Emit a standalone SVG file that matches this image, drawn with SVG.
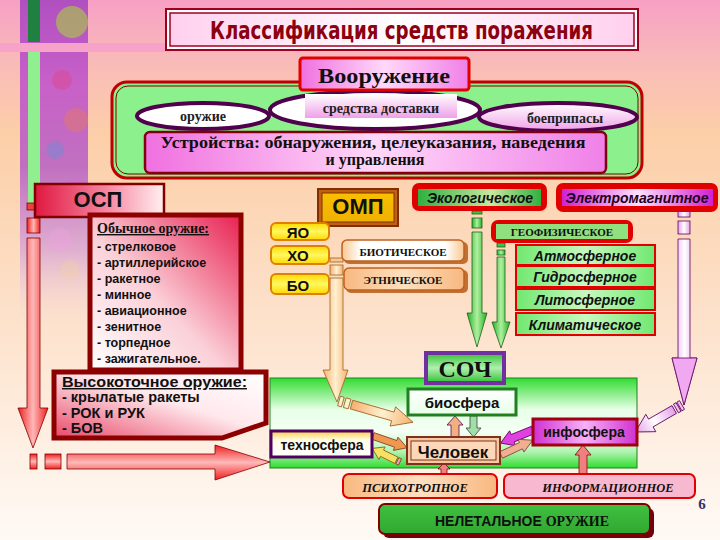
<svg xmlns="http://www.w3.org/2000/svg" width="720" height="540" viewBox="0 0 720 540">
<defs>
<linearGradient id="bg" x1="0" y1="0" x2="0" y2="1">
<stop offset="0" stop-color="#f7a0c4"/><stop offset="0.12" stop-color="#f9bcb8"/><stop offset="0.25" stop-color="#fccfa8"/><stop offset="0.6" stop-color="#fde2cc"/><stop offset="1" stop-color="#fffaf5"/>
</linearGradient>
<linearGradient id="collage" x1="0" y1="0" x2="0" y2="1">
<stop offset="0" stop-color="#b050c0"/><stop offset="0.25" stop-color="#c860c8"/><stop offset="0.5" stop-color="#c070c0"/><stop offset="0.75" stop-color="#e0b0d0"/><stop offset="1" stop-color="#fde6dc" stop-opacity="0"/>
</linearGradient>
<linearGradient id="gTitle" x1="0" y1="0" x2="1" y2="0">
<stop offset="0" stop-color="#ffd0ee"/><stop offset="0.5" stop-color="#ffffff"/><stop offset="1" stop-color="#ffd0ee"/>
</linearGradient>
<linearGradient id="gPink" x1="0" y1="0" x2="1" y2="0">
<stop offset="0" stop-color="#f070e0"/><stop offset="0.5" stop-color="#ffd8f8"/><stop offset="1" stop-color="#f080e8"/>
</linearGradient>
<linearGradient id="gPinkV" x1="0" y1="0" x2="0" y2="1">
<stop offset="0" stop-color="#ffffff"/><stop offset="1" stop-color="#f0a0e8"/>
</linearGradient>
<linearGradient id="gOsp" x1="0" y1="0" x2="1" y2="0">
<stop offset="0" stop-color="#e01840"/><stop offset="0.6" stop-color="#f890a8"/><stop offset="1" stop-color="#fff0f0"/>
</linearGradient>
<linearGradient id="gOb" x1="1" y1="0" x2="0" y2="1">
<stop offset="0" stop-color="#e82050"/><stop offset="0.55" stop-color="#fbd0d8"/><stop offset="1" stop-color="#ffffff"/>
</linearGradient>
<linearGradient id="gVt" x1="0" y1="1" x2="1" y2="0">
<stop offset="0" stop-color="#e84868"/><stop offset="0.55" stop-color="#ffe8ec"/><stop offset="1" stop-color="#ffffff"/>
</linearGradient>
<linearGradient id="gRedV" x1="0" y1="0" x2="1" y2="0">
<stop offset="0" stop-color="#f02020"/><stop offset="0.5" stop-color="#ffb8b8"/><stop offset="1" stop-color="#f02020"/>
</linearGradient>
<linearGradient id="gRedH" x1="0" y1="0" x2="0" y2="1">
<stop offset="0" stop-color="#f02020"/><stop offset="0.5" stop-color="#ffb8b8"/><stop offset="1" stop-color="#f02020"/>
</linearGradient>
<linearGradient id="gOrange" x1="0" y1="0" x2="1" y2="0">
<stop offset="0" stop-color="#f4b070"/><stop offset="0.5" stop-color="#fff0d0"/><stop offset="1" stop-color="#f4b070"/>
</linearGradient>
<linearGradient id="gGreenA" x1="0" y1="0" x2="1" y2="0">
<stop offset="0" stop-color="#20b020"/><stop offset="0.5" stop-color="#b0f0a0"/><stop offset="1" stop-color="#20b020"/>
</linearGradient>
<linearGradient id="gLav" x1="0" y1="0" x2="1" y2="0">
<stop offset="0" stop-color="#e0a0e8"/><stop offset="0.5" stop-color="#ffffff"/><stop offset="1" stop-color="#e0a0e8"/>
</linearGradient>
<linearGradient id="gYellow" x1="0" y1="0" x2="0" y2="1">
<stop offset="0" stop-color="#ffd800"/><stop offset="0.5" stop-color="#fff860"/><stop offset="1" stop-color="#ffd800"/>
</linearGradient>
<linearGradient id="gGold" x1="0" y1="0" x2="0" y2="1">
<stop offset="0" stop-color="#f8c000"/><stop offset="1" stop-color="#f0b000"/>
</linearGradient>
<linearGradient id="gBeige" x1="0" y1="0" x2="1" y2="0">
<stop offset="0" stop-color="#f8c890"/><stop offset="0.15" stop-color="#ffffff"/><stop offset="0.85" stop-color="#ffffff"/><stop offset="1" stop-color="#f8c890"/>
</linearGradient>
<linearGradient id="gPeach" x1="0" y1="0" x2="1" y2="0">
<stop offset="0" stop-color="#f8b880"/><stop offset="0.5" stop-color="#fde0c0"/><stop offset="1" stop-color="#f8b880"/>
</linearGradient>
<linearGradient id="gEco" x1="0" y1="0" x2="1" y2="0">
<stop offset="0" stop-color="#30b040"/><stop offset="0.6" stop-color="#c8e8a0"/><stop offset="1" stop-color="#30b040"/>
</linearGradient>
<linearGradient id="gEm" x1="0" y1="0" x2="1" y2="0">
<stop offset="0" stop-color="#d020d0"/><stop offset="0.5" stop-color="#ffe0ff"/><stop offset="1" stop-color="#d020d0"/>
</linearGradient>
<linearGradient id="gGreenBox" x1="0" y1="0" x2="1" y2="0">
<stop offset="0" stop-color="#70e870"/><stop offset="0.5" stop-color="#c8f8c0"/><stop offset="1" stop-color="#70e870"/>
</linearGradient>
<linearGradient id="gSoch" x1="0" y1="0" x2="0" y2="1">
<stop offset="0" stop-color="#30dc30"/><stop offset="0.35" stop-color="#e8ffe8"/><stop offset="0.6" stop-color="#f4fff4"/><stop offset="0.82" stop-color="#b0f4b0"/><stop offset="1" stop-color="#30dc30"/>
</linearGradient>
<linearGradient id="gSochBox" x1="0" y1="0" x2="0" y2="1">
<stop offset="0" stop-color="#30c030"/><stop offset="0.5" stop-color="#b0f0b0"/><stop offset="1" stop-color="#30c030"/>
</linearGradient>
<linearGradient id="gTechno" x1="0" y1="0" x2="0" y2="1">
<stop offset="0" stop-color="#f8d040"/><stop offset="0.35" stop-color="#fffce8"/><stop offset="1" stop-color="#ffffff"/>
</linearGradient>
<linearGradient id="gInfo" x1="0" y1="0" x2="1" y2="0">
<stop offset="0" stop-color="#d030d0"/><stop offset="0.5" stop-color="#f8b0f8"/><stop offset="1" stop-color="#d030d0"/>
</linearGradient>
<linearGradient id="gNeleth" x1="0" y1="0" x2="0" y2="1">
<stop offset="0" stop-color="#40c040"/><stop offset="1" stop-color="#30a830"/>
</linearGradient>
<linearGradient id="gBio" x1="0" y1="0" x2="0" y2="1">
<stop offset="0" stop-color="#ffffff"/><stop offset="1" stop-color="#e8ffe8"/>
</linearGradient>
<style>
.serif{font-family:"Liberation Serif","Times New Roman",serif;font-weight:bold}
.sans{font-family:"Liberation Sans",Arial,sans-serif;font-weight:bold}
.cond{font-family:"DejaVu Sans Condensed","Liberation Sans",Arial,sans-serif;font-weight:bold}
.it{font-style:italic}
.c{text-anchor:middle}
.ell{stroke:#50004c;stroke-width:4}
.arr{stroke-width:0.8}
</style>
</defs>

<!-- background -->
<rect x="0" y="0" width="720" height="540" fill="url(#bg)"/>
<g id="collage">
<rect x="20" y="0" width="68" height="335" fill="url(#collage)"/>
<circle cx="72" cy="22" r="16" fill="#a8d040" opacity="0.6"/>
<circle cx="62" cy="80" r="10" fill="#e04080" opacity="0.4"/>
<circle cx="76" cy="120" r="12" fill="#f08040" opacity="0.35"/>
<circle cx="55" cy="150" r="9" fill="#40a0e0" opacity="0.3"/>
<circle cx="75" cy="190" r="11" fill="#e060e0" opacity="0.4"/>
<circle cx="60" cy="240" r="12" fill="#f0a0e0" opacity="0.35"/>
<circle cx="70" cy="270" r="10" fill="#f0d0a0" opacity="0.35"/>
<rect x="28" y="0" width="12" height="42" fill="#208040"/>
<rect x="28" y="52" width="12" height="153" fill="#90f090"/>
</g>
<rect x="0" y="43" width="170" height="9" fill="#f7a2c8"/>

<!-- title -->
<g id="title">
<rect x="166" y="9" width="472" height="41" fill="#fff" stroke="#a00020" stroke-width="2"/>
<rect x="170" y="13" width="464" height="33" fill="url(#gTitle)" stroke="#a00020" stroke-width="1.5"/>
<text x="210" y="39" class="cond" font-size="24" fill="#8c0010" textLength="383" lengthAdjust="spacingAndGlyphs">Классификация средств поражения</text>
</g>

<!-- armament block -->
<g id="armament">
<rect x="112" y="82" width="530" height="96" rx="15" fill="#8cf08c" stroke="#c00000" stroke-width="3"/>
<rect x="116" y="86" width="522" height="88" rx="12" fill="none" stroke="#800000" stroke-width="1"/>
</g>
<g id="n-oruzhie">
<ellipse cx="203" cy="116" rx="66" ry="13" fill="#fff" class="ell"/>
<text x="203" y="121" class="serif c" font-size="14" fill="#202020">оружие</text>
</g>
<g id="n-boepripasy">
<ellipse cx="558" cy="117" rx="79" ry="14" fill="url(#gPinkV)" class="ell"/>
<text x="565" y="123" class="serif c" font-size="14" fill="#202020">боеприпасы</text>
</g>
<g id="n-dostavka">
<ellipse cx="375" cy="110" rx="105" ry="19" fill="#fff" class="ell"/>
<rect x="305" y="94" width="152" height="24" fill="url(#gPinkV)"/>
<text x="381" y="113" class="serif c" font-size="14" fill="#202020">средства доставки</text>
</g>
<g id="n-vooruzhenie">
<rect x="300" y="58" width="169" height="32" rx="3" fill="url(#gPink)" stroke="#e00000" stroke-width="3"/>
<text x="384" y="83" class="serif c" font-size="22" fill="#101010" textLength="132" lengthAdjust="spacingAndGlyphs">Вооружение</text>
</g>
<g id="n-ustroistva">
<rect x="145" y="132" width="461" height="41" rx="5" fill="url(#gPink)" stroke="#800010" stroke-width="2.5"/>
<text x="373" y="148" class="serif c" font-size="16" fill="#101010" textLength="425" lengthAdjust="spacingAndGlyphs">Устройства: обнаружения, целеуказания, наведения</text>
<text x="375" y="165" class="serif c" font-size="16" fill="#101010">и управления</text>
</g>

<!-- СОЧ area (background of spheres) -->
<g id="n-soch-area">
<rect x="270" y="378" width="367" height="90" fill="url(#gSoch)" stroke="#208020" stroke-width="1"/>
</g>

<!-- connectors -->
<g id="connectors">
<!-- left red down arrow -->
<rect x="27" y="203" width="13" height="7" fill="#f04040" stroke="#800000" class="arr"/>
<rect x="27" y="218" width="13" height="15" fill="url(#gRedV)" stroke="#800000" class="arr"/>
<path d="M27 238H40V408H48L33 448L18 408H27Z" fill="url(#gRedV)" stroke="#800000" class="arr"/>
<!-- bottom red right arrow -->
<rect x="30" y="454" width="7" height="15" fill="url(#gRedH)" stroke="#800000" class="arr"/>
<rect x="45" y="454" width="16" height="15" fill="url(#gRedH)" stroke="#800000" class="arr"/>
<path d="M67 454H215V445L270 462L215 480V469H67Z" fill="url(#gRedH)" stroke="#800000" class="arr"/>
<!-- orange arrow from БО -->
<rect x="330" y="258" width="13" height="4" fill="#f8c890" stroke="#a06020" class="arr"/>
<rect x="330" y="265" width="13" height="10" fill="url(#gOrange)" stroke="#a06020" class="arr"/>
<path d="M330 278H343V370H348L337 402L323 370H330Z" fill="url(#gOrange)" stroke="#a06020" class="arr"/>
<g transform="translate(339 401) rotate(16)">
<rect x="0" y="-5" width="4" height="10" fill="#fff0d0" stroke="#a06020" class="arr"/>
<rect x="6" y="-5" width="5" height="10" fill="#fff0d0" stroke="#a06020" class="arr"/>
<path d="M13 -4.5H56V-10L77 0L56 10V4.5H13Z" fill="url(#gOrange)" stroke="#a06020" class="arr"/>
</g>
<!-- green arrows -->
<rect x="472" y="211" width="10" height="3" fill="#40c040" stroke="#206020" class="arr"/>
<rect x="472" y="218" width="10" height="10" fill="url(#gGreenA)" stroke="#206020" class="arr"/>
<path d="M472 232H482V313H487L477 347L467 313H472Z" fill="url(#gGreenA)" stroke="#206020" class="arr"/>
<rect x="497" y="243" width="8" height="4" fill="#40c040" stroke="#206020" class="arr"/>
<rect x="497" y="250" width="8" height="5" fill="url(#gGreenA)" stroke="#206020" class="arr"/>
<path d="M497 257H505V322H510L501 348L492 322H497Z" fill="url(#gGreenA)" stroke="#206020" class="arr"/>
<!-- pink arrow from Электромагнитное -->
<rect x="678" y="211" width="12" height="6" fill="url(#gLav)" stroke="#600060" class="arr"/>
<rect x="678" y="221" width="12" height="13" fill="url(#gLav)" stroke="#600060" class="arr"/>
<path d="M678 239H690V358H697L684 405L672 358H678Z" fill="url(#gLav)" stroke="#600060" class="arr"/>
<path d="M672 358H697L684 405Z" fill="#f0a8f0" stroke="#600060" class="arr"/>
<g transform="translate(682 405) rotate(150)">
<rect x="0" y="-5" width="3" height="10" fill="#f0c0f0" stroke="#600060" class="arr"/>
<rect x="4" y="-5" width="3" height="10" fill="#f0c0f0" stroke="#600060" class="arr"/>
<path d="M9 -4.5H36V-10L54 0L36 10V4.5H9Z" fill="url(#gLav)" stroke="#600060" class="arr"/>
</g>
<!-- Человек <-> биосфера -->
<path d="M451 437H459V425H463L455 416L447 425H451Z" fill="#f0b080" stroke="#600060" class="arr"/>
<path d="M470 416H477V428H481L473.5 437L466 428H470Z" fill="#a0e0a8" stroke="#404040" class="arr"/>
<!-- техносфера -> Человек -->
<g transform="translate(373 436) rotate(19)">
<path d="M0 -3.5H24V-7L36 0L24 7V3.5H0Z" fill="#f09850" stroke="#804020" class="arr"/>
</g>
<g transform="translate(400 462) rotate(206)">
<rect x="0" y="-3.5" width="3" height="7" fill="#f0a0c0" stroke="#804020" class="arr"/>
<path d="M4 -3.5H20V-7L31 0L20 7V3.5H4Z" fill="#f8e060" stroke="#806020" class="arr"/>
</g>
<!-- инфосфера <-> Человек -->
<g transform="translate(533 430) rotate(158)">
<path d="M0 -4H22V-8L35 0L22 8V4H0Z" fill="#e040e0" stroke="#600060" class="arr"/>
</g>
<g transform="translate(501 455) rotate(-25)">
<path d="M0 -3.5H22V-7L35 0L22 7V3.5H0Z" fill="#f0b090" stroke="#804040" class="arr"/>
</g>
<!-- ПСИХОТРОПНОЕ -> Человек -->
<path d="M441 475H447V469H450L444 463L438 469H441Z" fill="#f08080" stroke="#800000" class="arr"/>
<!-- ИНФОРМАЦИОННОЕ -> инфосфера -->
<path d="M579 474H587V455H591L583 445L575 455H579Z" fill="#f08080" stroke="#800000" class="arr"/>
</g>

<!-- ОСП -->
<g id="n-osp">
<rect x="35" y="184" width="129" height="33" fill="url(#gOsp)" stroke="#800000" stroke-width="2.5"/>
<text x="98" y="207" class="sans c" font-size="22" fill="#101010">ОСП</text>
</g>
<g id="n-obychnoe">
<rect x="90" y="215" width="151" height="155" fill="url(#gOb)" stroke="#8c0000" stroke-width="5"/>
<text x="97" y="233" class="serif" font-size="14" fill="#101010" text-decoration="underline">Обычное оружие:</text>
<g class="sans" font-size="12.5" fill="#101010">
<text x="97" y="251">- стрелковое</text>
<text x="97" y="267">- артиллерийское</text>
<text x="97" y="283">- ракетное</text>
<text x="97" y="299">- минное</text>
<text x="97" y="315">- авиационное</text>
<text x="97" y="331">- зенитное</text>
<text x="97" y="347">- торпедное</text>
<text x="97" y="363">- зажигательное.</text>
</g>
</g>
<g id="n-vysokotochnoe">
<path d="M54 372H266V423L222 438H54Z" fill="url(#gVt)" stroke="#8c0000" stroke-width="5"/>
<g class="sans" font-size="14.5" fill="#101010">
<text x="62" y="387" text-decoration="underline" textLength="185" lengthAdjust="spacingAndGlyphs">Высокоточное оружие:</text>
<text x="62" y="402">- крылатые ракеты</text>
<text x="62" y="418">- РОК и РУК</text>
<text x="62" y="433">- БОВ</text>
</g>
</g>

<!-- ОМП -->
<g id="n-omp">
<rect x="318" y="189" width="80" height="37" fill="#c06010" stroke="#803000" stroke-width="2"/>
<rect x="322" y="193" width="72" height="29" fill="url(#gGold)" stroke="#803000" stroke-width="1"/>
<text x="358" y="214" class="sans c" font-size="22" fill="#101010">ОМП</text>
</g>
<g id="n-yao">
<rect x="271" y="223" width="58" height="17" rx="5" fill="url(#gYellow)" stroke="#e08000" stroke-width="2"/>
<text x="298" y="238" class="sans c" font-size="15" font-weight="normal" fill="#101010">ЯО</text>
</g>
<g id="n-ho">
<rect x="271" y="246" width="58" height="18" rx="5" fill="url(#gYellow)" stroke="#e08000" stroke-width="2"/>
<text x="298" y="261" class="sans c" font-size="15" font-weight="normal" fill="#101010">ХО</text>
</g>
<g id="n-bo">
<rect x="271" y="274" width="58" height="20" rx="5" fill="url(#gYellow)" stroke="#e08000" stroke-width="2"/>
<text x="298" y="291" class="sans c" font-size="15" font-weight="normal" fill="#101010">БО</text>
</g>
<g id="n-bioticheskoe">
<rect x="344" y="242" width="124" height="22" rx="5" fill="#c07030"/>
<rect x="342" y="240" width="122" height="21" rx="5" fill="url(#gBeige)" stroke="#c06020" stroke-width="1.5"/>
<text x="403" y="256" class="serif c" font-size="11" fill="#101010">БИОТИЧЕСКОЕ</text>
</g>
<g id="n-etnicheskoe">
<rect x="346" y="270" width="122" height="23" rx="5" fill="#c07030"/>
<rect x="344" y="268" width="120" height="22" rx="5" fill="url(#gPeach)" stroke="#c06020" stroke-width="1.5"/>
<text x="403" y="284" class="serif c" font-size="11" fill="#101010">ЭТНИЧЕСКОЕ</text>
</g>

<!-- Экологическое / Электромагнитное / ГЕОФИЗИЧЕСКОЕ -->
<g id="n-ekologicheskoe">
<rect x="412" y="183" width="135" height="28" rx="7" fill="#e00000"/>
<rect x="418" y="189" width="123" height="17" fill="url(#gEco)"/>
<text x="480" y="203" class="sans it c" font-size="14" fill="#101010">Экологическое</text>
</g>
<g id="n-elektromagnitnoe">
<rect x="556" y="183" width="162" height="29" rx="7" fill="#e00000"/>
<rect x="562" y="189" width="151" height="17" fill="url(#gEm)"/>
<text x="637" y="203" class="sans it c" font-size="14" fill="#200020">Электромагнитное</text>
</g>
<g id="n-geofizicheskoe">
<rect x="491" y="220" width="142" height="23" rx="7" fill="#e00000"/>
<rect x="496" y="224" width="132" height="15" fill="#90e080"/>
<text x="562" y="236" class="serif c" font-size="11" fill="#101010">ГЕОФИЗИЧЕСКОЕ</text>
</g>
<g id="n-atmosfernoe">
<rect x="516" y="245" width="139" height="20" fill="url(#gGreenBox)" stroke="#e00000" stroke-width="2"/>
<text x="585" y="261" class="sans it c" font-size="14" fill="#101010">Атмосферное</text>
</g>
<g id="n-gidrosfernoe">
<rect x="516" y="266" width="139" height="21" fill="url(#gGreenBox)" stroke="#e00000" stroke-width="2"/>
<text x="585" y="282" class="sans it c" font-size="14" fill="#101010">Гидросферное</text>
</g>
<g id="n-litosfernoe">
<rect x="516" y="289" width="139" height="21" fill="url(#gGreenBox)" stroke="#e00000" stroke-width="2"/>
<text x="585" y="305" class="sans it c" font-size="14" fill="#101010">Литосферное</text>
</g>
<g id="n-klimaticheskoe">
<rect x="516" y="313" width="139" height="22" fill="url(#gGreenBox)" stroke="#e00000" stroke-width="2"/>
<text x="585" y="330" class="sans it c" font-size="14" fill="#101010">Климатическое</text>
</g>

<g id="n-soch">
<rect x="426" y="353" width="78" height="30" fill="url(#gSochBox)" stroke="#7030a0" stroke-width="4"/>
<text x="465" y="377" class="serif c" font-size="24" fill="#101010">СОЧ</text>
</g>
<g id="n-biosfera">
<rect x="408" y="389" width="108" height="26" fill="url(#gBio)" stroke="#208020" stroke-width="3"/>
<text x="462" y="408" class="sans c" font-size="15" fill="#101010">биосфера</text>
</g>
<g id="n-tehnosfera">
<rect x="271" y="431" width="101" height="26" fill="url(#gTechno)" stroke="#500060" stroke-width="3"/>
<text x="322" y="450" class="sans c" font-size="14" fill="#101010">техносфера</text>
</g>
<g id="n-chelovek">
<rect x="407" y="437" width="93" height="27" fill="#f8c8a0" stroke="#803020" stroke-width="2"/>
<rect x="411" y="441" width="85" height="19" fill="#fcd8b8" stroke="#803020" stroke-width="1"/>
<text x="453" y="458" class="sans c" font-size="17" fill="#101010">Человек</text>
</g>
<g id="n-infosfera">
<rect x="533" y="419" width="104" height="26" fill="url(#gInfo)" stroke="#a00010" stroke-width="3"/>
<text x="584" y="437" class="sans c" font-size="14" fill="#101010">инфосфера</text>
</g>

<!-- bottom -->
<g id="n-psihotropnoe">
<rect x="343" y="474" width="154" height="24" rx="6" fill="url(#gPeach)" stroke="#e00000" stroke-width="2"/>
<text x="415" y="492" class="serif it c" font-size="12.5" fill="#101010">ПСИХОТРОПНОЕ</text>
</g>
<g id="n-informacionnoe">
<rect x="504" y="474" width="191" height="24" rx="6" fill="#f8b8d0" stroke="#e00000" stroke-width="2"/>
<text x="608" y="492" class="serif it c" font-size="12.5" fill="#101010">ИНФОРМАЦИОННОЕ</text>
</g>
<g id="n-neletalnoe">
<rect x="383" y="508" width="271" height="30" rx="6" fill="#700010"/>
<rect x="379" y="504" width="271" height="30" rx="6" fill="url(#gNeleth)" stroke="#800000" stroke-width="2"/>
<text x="522" y="526" class="sans c" font-size="14" font-weight="normal" fill="#101010">НЕЛЕТАЛЬНОЕ <tspan class="serif">ОРУЖИЕ</tspan></text>
</g>
<text x="702" y="509" class="serif c" font-size="15" fill="#303070">6</text>
</svg>
